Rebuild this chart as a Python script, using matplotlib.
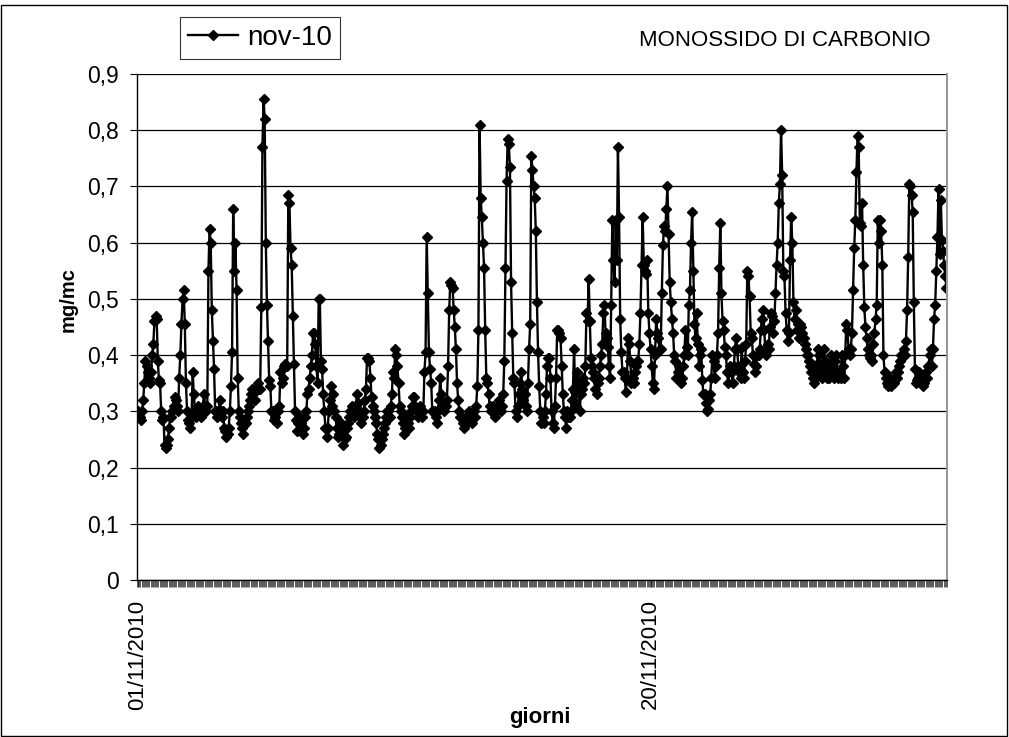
import numpy as np
import matplotlib
matplotlib.use("Agg")
from matplotlib import pyplot as plt
from matplotlib.patches import Rectangle

plt.rcParams['font.family'] = ['Liberation Sans', 'DejaVu Sans']

# hourly CO concentration (mg/mc), one list per day of November 2010
d01 = [0.30, 0.295, 0.29, 0.285, 0.30, 0.32, 0.35, 0.39, 0.38, 0.37, 0.36, 0.35, 0.37, 0.40, 0.42, 0.46, 0.47, 0.465, 0.39, 0.355, 0.35, 0.30, 0.285, 0.29]
d02 = [0.24, 0.235, 0.24, 0.25, 0.27, 0.29, 0.29, 0.30, 0.31, 0.325, 0.32, 0.31, 0.30, 0.36, 0.40, 0.455, 0.50, 0.515, 0.455, 0.35, 0.30, 0.285, 0.28, 0.27]
d03 = [0.29, 0.37, 0.33, 0.30, 0.29, 0.30, 0.31, 0.30, 0.29, 0.30, 0.31, 0.33, 0.31, 0.30, 0.31, 0.55, 0.625, 0.60, 0.48, 0.425, 0.375, 0.30, 0.30, 0.29]
d04 = [0.30, 0.32, 0.30, 0.29, 0.30, 0.27, 0.265, 0.255, 0.26, 0.27, 0.30, 0.345, 0.405, 0.66, 0.55, 0.60, 0.515, 0.36, 0.30, 0.29, 0.28, 0.27, 0.26, 0.275]
d05 = [0.28, 0.29, 0.30, 0.31, 0.32, 0.33, 0.34, 0.33, 0.32, 0.34, 0.34, 0.35, 0.34, 0.34, 0.485, 0.77, 0.855, 0.82, 0.60, 0.49, 0.425, 0.355, 0.345, 0.30]
d06 = [0.30, 0.285, 0.29, 0.30, 0.28, 0.30, 0.31, 0.37, 0.35, 0.36, 0.38, 0.385, 0.38, 0.38, 0.685, 0.67, 0.59, 0.56, 0.47, 0.385, 0.30, 0.285, 0.265, 0.28]
d07 = [0.29, 0.28, 0.27, 0.26, 0.27, 0.29, 0.30, 0.33, 0.34, 0.36, 0.38, 0.40, 0.44, 0.44, 0.42, 0.38, 0.35, 0.50, 0.50, 0.39, 0.375, 0.33, 0.30, 0.27]
d08 = [0.255, 0.27, 0.30, 0.32, 0.345, 0.31, 0.33, 0.30, 0.29, 0.27, 0.255, 0.26, 0.27, 0.28, 0.265, 0.24, 0.25, 0.255, 0.27, 0.28, 0.29, 0.30, 0.30, 0.31]
d09 = [0.29, 0.30, 0.31, 0.33, 0.315, 0.30, 0.29, 0.28, 0.29, 0.30, 0.32, 0.34, 0.395, 0.395, 0.39, 0.36, 0.325, 0.31, 0.30, 0.29, 0.28, 0.26, 0.25, 0.235]
d10 = [0.24, 0.25, 0.26, 0.27, 0.28, 0.29, 0.30, 0.30, 0.29, 0.31, 0.33, 0.37, 0.36, 0.41, 0.40, 0.38, 0.35, 0.31, 0.30, 0.29, 0.28, 0.26, 0.27, 0.29]
d11 = [0.28, 0.27, 0.29, 0.30, 0.31, 0.325, 0.325, 0.31, 0.30, 0.29, 0.30, 0.31, 0.30, 0.29, 0.30, 0.37, 0.405, 0.61, 0.51, 0.405, 0.375, 0.35, 0.30, 0.30]
d12 = [0.30, 0.29, 0.28, 0.30, 0.32, 0.36, 0.33, 0.31, 0.30, 0.31, 0.31, 0.32, 0.38, 0.48, 0.53, 0.525, 0.52, 0.48, 0.45, 0.41, 0.35, 0.32, 0.30, 0.29]
d13 = [0.29, 0.28, 0.27, 0.28, 0.29, 0.28, 0.29, 0.30, 0.29, 0.28, 0.29, 0.30, 0.29, 0.31, 0.345, 0.445, 0.81, 0.68, 0.645, 0.60, 0.555, 0.445, 0.36, 0.35]
d14 = [0.33, 0.31, 0.30, 0.30, 0.31, 0.30, 0.29, 0.30, 0.31, 0.32, 0.31, 0.30, 0.31, 0.33, 0.39, 0.555, 0.71, 0.785, 0.775, 0.735, 0.53, 0.44, 0.36, 0.35]
d15 = [0.30, 0.29, 0.31, 0.33, 0.35, 0.37, 0.34, 0.32, 0.33, 0.31, 0.30, 0.35, 0.41, 0.455, 0.755, 0.73, 0.70, 0.68, 0.62, 0.495, 0.405, 0.345, 0.30, 0.28]
d16 = [0.29, 0.28, 0.30, 0.33, 0.38, 0.395, 0.395, 0.36, 0.30, 0.28, 0.27, 0.31, 0.36, 0.445, 0.445, 0.44, 0.43, 0.38, 0.33, 0.30, 0.29, 0.27, 0.30, 0.29]
d17 = [0.29, 0.30, 0.32, 0.34, 0.41, 0.335, 0.31, 0.37, 0.35, 0.30, 0.33, 0.34, 0.36, 0.35, 0.38, 0.475, 0.46, 0.535, 0.46, 0.395, 0.38, 0.37, 0.36, 0.34]
d18 = [0.33, 0.35, 0.36, 0.38, 0.40, 0.42, 0.475, 0.49, 0.44, 0.43, 0.415, 0.38, 0.36, 0.49, 0.64, 0.57, 0.53, 0.64, 0.57, 0.77, 0.645, 0.465, 0.405, 0.37]
d19 = [0.37, 0.36, 0.335, 0.36, 0.43, 0.42, 0.39, 0.35, 0.36, 0.35, 0.37, 0.38, 0.39, 0.39, 0.42, 0.475, 0.56, 0.645, 0.56, 0.55, 0.545, 0.57, 0.475, 0.44]
d20 = [0.41, 0.38, 0.35, 0.34, 0.40, 0.465, 0.44, 0.43, 0.41, 0.41, 0.51, 0.595, 0.63, 0.62, 0.66, 0.70, 0.615, 0.53, 0.495, 0.465, 0.44, 0.40, 0.39, 0.36]
d21 = [0.37, 0.38, 0.36, 0.35, 0.36, 0.38, 0.40, 0.445, 0.415, 0.40, 0.49, 0.515, 0.60, 0.655, 0.55, 0.455, 0.43, 0.475, 0.42, 0.38, 0.40, 0.41, 0.355, 0.33]
d22 = [0.33, 0.315, 0.30, 0.305, 0.32, 0.33, 0.36, 0.40, 0.39, 0.36, 0.38, 0.40, 0.44, 0.555, 0.635, 0.51, 0.46, 0.445, 0.415, 0.40, 0.37, 0.35, 0.37, 0.38]
d23 = [0.37, 0.35, 0.38, 0.41, 0.43, 0.41, 0.38, 0.37, 0.36, 0.415, 0.37, 0.36, 0.39, 0.42, 0.55, 0.54, 0.505, 0.44, 0.43, 0.40, 0.385, 0.37, 0.38, 0.40]
d24 = [0.40, 0.41, 0.445, 0.465, 0.48, 0.445, 0.41, 0.40, 0.42, 0.41, 0.45, 0.475, 0.47, 0.44, 0.46, 0.51, 0.56, 0.60, 0.67, 0.705, 0.80, 0.72, 0.55, 0.54]
d25 = [0.475, 0.445, 0.425, 0.44, 0.57, 0.645, 0.60, 0.495, 0.465, 0.48, 0.445, 0.455, 0.43, 0.455, 0.45, 0.44, 0.43, 0.42, 0.41, 0.40, 0.40, 0.39, 0.38, 0.37]
d26 = [0.36, 0.35, 0.37, 0.36, 0.385, 0.41, 0.40, 0.37, 0.36, 0.38, 0.41, 0.39, 0.37, 0.36, 0.38, 0.36, 0.40, 0.38, 0.37, 0.36, 0.39, 0.40, 0.37, 0.36]
d27 = [0.37, 0.36, 0.40, 0.38, 0.36, 0.40, 0.455, 0.445, 0.41, 0.40, 0.41, 0.44, 0.515, 0.59, 0.64, 0.725, 0.79, 0.77, 0.635, 0.63, 0.67, 0.56, 0.485, 0.45]
d28 = [0.43, 0.41, 0.40, 0.395, 0.40, 0.39, 0.42, 0.44, 0.465, 0.49, 0.64, 0.60, 0.64, 0.62, 0.56, 0.40, 0.37, 0.36, 0.35, 0.345, 0.35, 0.36, 0.345, 0.35]
d29 = [0.35, 0.36, 0.37, 0.36, 0.37, 0.38, 0.39, 0.40, 0.40, 0.41, 0.40, 0.425, 0.48, 0.575, 0.705, 0.70, 0.685, 0.655, 0.495, 0.375, 0.35, 0.355, 0.36, 0.37]
d30 = [0.35, 0.355, 0.345, 0.35, 0.36, 0.37, 0.36, 0.38, 0.40, 0.41, 0.38, 0.41, 0.465, 0.49, 0.55, 0.61, 0.695, 0.58, 0.675, 0.605, 0.585, 0.56, 0.54, 0.52]

days = [d01, d02, d03, d04, d05, d06, d07, d08, d09, d10, d11, d12, d13, d14, d15,
        d16, d17, d18, d19, d20, d21, d22, d23, d24, d25, d26, d27, d28, d29, d30]
co = np.concatenate(days)
hours = np.arange(len(co))

date_ticks = [0, 456]
date_labels = ['01/11/2010', '20/11/2010']
y_ticks = [0, 0.1, 0.2, 0.3, 0.4, 0.5, 0.6, 0.7, 0.8, 0.9]

fig = plt.figure(figsize=(10.09, 7.37), dpi=100)
fig.patches.append(Rectangle((0.001, 0.001), 0.997, 0.992, transform=fig.transFigure,
                             fill=False, edgecolor='black', linewidth=1.0))
ax = fig.add_axes([137 / 1009, 1 - 580 / 737, 810 / 1009, 506 / 737])

line, = ax.plot(hours, co, color='black', lw=1.7, marker='D', ms=5.4,
                mfc='black', mec='black', label='nov-10')

ax.set_xlim(-0.5, len(co) - 0.5)
ax.set_ylim(0, 0.9)
ax.set_yticks(y_ticks)
ax.set_yticklabels([('%g' % v).replace('.', ',') for v in y_ticks], fontsize=16.5)
ax.yaxis.grid(True, color='black', lw=0.9)
ax.set_axisbelow(True)

ax.set_xticks(date_ticks)
ax.set_xticklabels(date_labels, rotation=90, fontsize=16)
ax.set_xticks(np.arange(-0.5, len(co), 1), minor=True)
ax.tick_params(axis='x', which='both', length=5, width=0.45, direction='out', pad=9)
ax.tick_params(axis='y', length=5, width=0.8, direction='out', pad=8)

ax.spines['top'].set_visible(False)
ax.spines['right'].set_color('#999999')
ax.spines['right'].set_linewidth(1.5)
ax.spines['left'].set_linewidth(1.0)
ax.spines['bottom'].set_linewidth(1.0)

fig.text(540 / 1009, 1 - 718 / 737, 'giorni', fontsize=16, fontweight='bold',
         ha='center', va='center')
fig.text(68 / 1009, 1 - 300 / 737, 'mg/mc', fontsize=14.5, fontweight='bold',
         ha='center', va='center', rotation=90)

fig.text(785 / 1009, 1 - 40 / 737, 'MONOSSIDO DI CARBONIO', fontsize=16,
         ha='center', va='center')
leg = fig.legend(handles=[line], loc='center', bbox_to_anchor=(260 / 1009, 1 - 38 / 737),
                 fontsize=20, frameon=True, fancybox=False, handlelength=1.8,
                 handletextpad=0.3, borderpad=0.3, borderaxespad=0, markerscale=1.0)
leg.get_frame().set_edgecolor('black')
leg.get_frame().set_linewidth(0.8)

fig.savefig('out.png', dpi=100)
